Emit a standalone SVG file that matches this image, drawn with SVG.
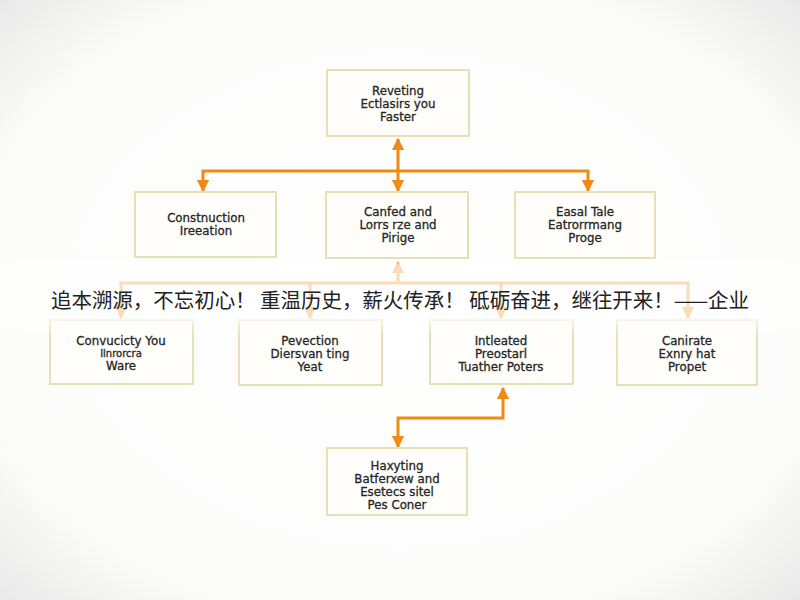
<svg xmlns="http://www.w3.org/2000/svg" width="800" height="600" viewBox="0 0 800 600">
  <defs>
    <radialGradient id="bg" cx="50%" cy="50%" r="75%">
      <stop offset="0" stop-color="#ffffff"/>
      <stop offset="0.72" stop-color="#fcfcfb"/>
      <stop offset="1" stop-color="#e4e4e4"/>
    </radialGradient>
    <linearGradient id="veil" x1="0" y1="0" x2="0" y2="1">
      <stop offset="0" stop-color="#ffffff" stop-opacity="0"/>
      <stop offset="0.1" stop-color="#ffffff" stop-opacity="0.7"/>
      <stop offset="0.78" stop-color="#ffffff" stop-opacity="0.7"/>
      <stop offset="1" stop-color="#ffffff" stop-opacity="0"/>
    </linearGradient>
    <marker id="arrow" viewBox="0 0 10 10" refX="9" refY="5" markerWidth="4.2" markerHeight="4.2" orient="auto-start-reverse" markerUnits="strokeWidth">
      <path d="M0,0 L10,5 L0,10 z" fill="#ef8a14"/>
    </marker>
    <style>
      .box { fill: #fffefa; stroke: #e8dfb4; stroke-width: 2; }
      .lbl { font-family: "DejaVu Sans", "Liberation Sans", sans-serif; font-size: 11.8px; fill: #262626; stroke: #262626; stroke-width: 0.3; text-anchor: middle; }
      .link { fill: none; stroke: #ef8a14; stroke-width: 3; stroke-linejoin: miter; }
      .slogan { font-family: "Noto Sans CJK SC", "Noto Sans", sans-serif; font-size: 20.5px; fill: #222222; }
    </style>
  </defs>

  <rect width="800" height="600" fill="url(#bg)"/>

  <!-- connectors -->
  <g id="connectors">
    <path class="link" d="M398,139 V191" marker-start="url(#arrow)" marker-end="url(#arrow)"/>
    <path class="link" d="M203,191 V171 H588 V191" marker-start="url(#arrow)" marker-end="url(#arrow)"/>
    <path class="link" d="M398,262 V283"  marker-start="url(#arrow)"/>
    <path class="link" d="M121,318 V283 H688 V318" marker-start="url(#arrow)" marker-end="url(#arrow)"/>
    <path class="link" d="M310,283 V318" marker-end="url(#arrow)"/>
    <path class="link" d="M501,283 V318" marker-end="url(#arrow)"/>
    <path class="link" d="M503,388 V418 H398 V447" marker-start="url(#arrow)" marker-end="url(#arrow)"/>
  </g>

  <!-- nodes -->
  <g id="node-top">
    <rect class="box" x="327" y="70" width="142" height="66"/>
    <text class="lbl" x="398" y="95">Reveting</text>
    <text class="lbl" x="398" y="108">Ectlasirs you</text>
    <text class="lbl" x="398" y="121">Faster</text>
  </g>

  <g id="node-construction">
    <rect class="box" x="135" y="192" width="141" height="65"/>
    <text class="lbl" x="206" y="222">Constnuction</text>
    <text class="lbl" x="206" y="235">Ireeation</text>
  </g>

  <g id="node-canfed">
    <rect class="box" x="326" y="192" width="142" height="66"/>
    <text class="lbl" x="398" y="216">Canfed and</text>
    <text class="lbl" x="398" y="229">Lorrs rze and</text>
    <text class="lbl" x="398" y="242">Pirige</text>
  </g>

  <g id="node-easal">
    <rect class="box" x="515" y="192" width="140" height="66"/>
    <text class="lbl" x="585" y="216">Easal Tale</text>
    <text class="lbl" x="585" y="229">Eatrorrmang</text>
    <text class="lbl" x="585" y="242">Proge</text>
  </g>

  <g id="node-convucicty">
    <rect class="box" x="50" y="320" width="143" height="64"/>
    <text class="lbl" x="121" y="345">Convucicty You</text>
    <text class="lbl" x="121" y="357" style="font-size:10px">Ilnrorcra</text>
    <text class="lbl" x="121" y="370">Ware</text>
  </g>

  <g id="node-pevection">
    <rect class="box" x="239" y="320" width="143" height="65"/>
    <text class="lbl" x="310" y="345">Pevection</text>
    <text class="lbl" x="310" y="358">Diersvan ting</text>
    <text class="lbl" x="310" y="371">Yeat</text>
  </g>

  <g id="node-intleated">
    <rect class="box" x="430" y="320" width="143" height="64"/>
    <text class="lbl" x="501" y="345">Intleated</text>
    <text class="lbl" x="501" y="358">Preostarl</text>
    <text class="lbl" x="501" y="371">Tuather Poters</text>
  </g>

  <g id="node-canirate">
    <rect class="box" x="617" y="320" width="140" height="65"/>
    <text class="lbl" x="687" y="345">Canirate</text>
    <text class="lbl" x="687" y="358">Exnry hat</text>
    <text class="lbl" x="687" y="371">Propet</text>
  </g>

  <g id="node-bottom">
    <rect class="box" x="327" y="448" width="140" height="67"/>
    <text class="lbl" x="397" y="470">Haxyting</text>
    <text class="lbl" x="397" y="483">Batferxew and</text>
    <text class="lbl" x="397" y="496">Esetecs sitel</text>
    <text class="lbl" x="397" y="509">Pes Coner</text>
  </g>

  <!-- soft white band behind the slogan -->
  <rect x="0" y="258" width="800" height="78" fill="url(#veil)"/>

  <g id="slogan">
    <text class="slogan" x="51" y="308" textLength="698" lengthAdjust="spacing">追本溯源，不忘初心！ 重温历史，薪火传承！ 砥砺奋进，继往开来！——企业</text>
  </g>
</svg>
